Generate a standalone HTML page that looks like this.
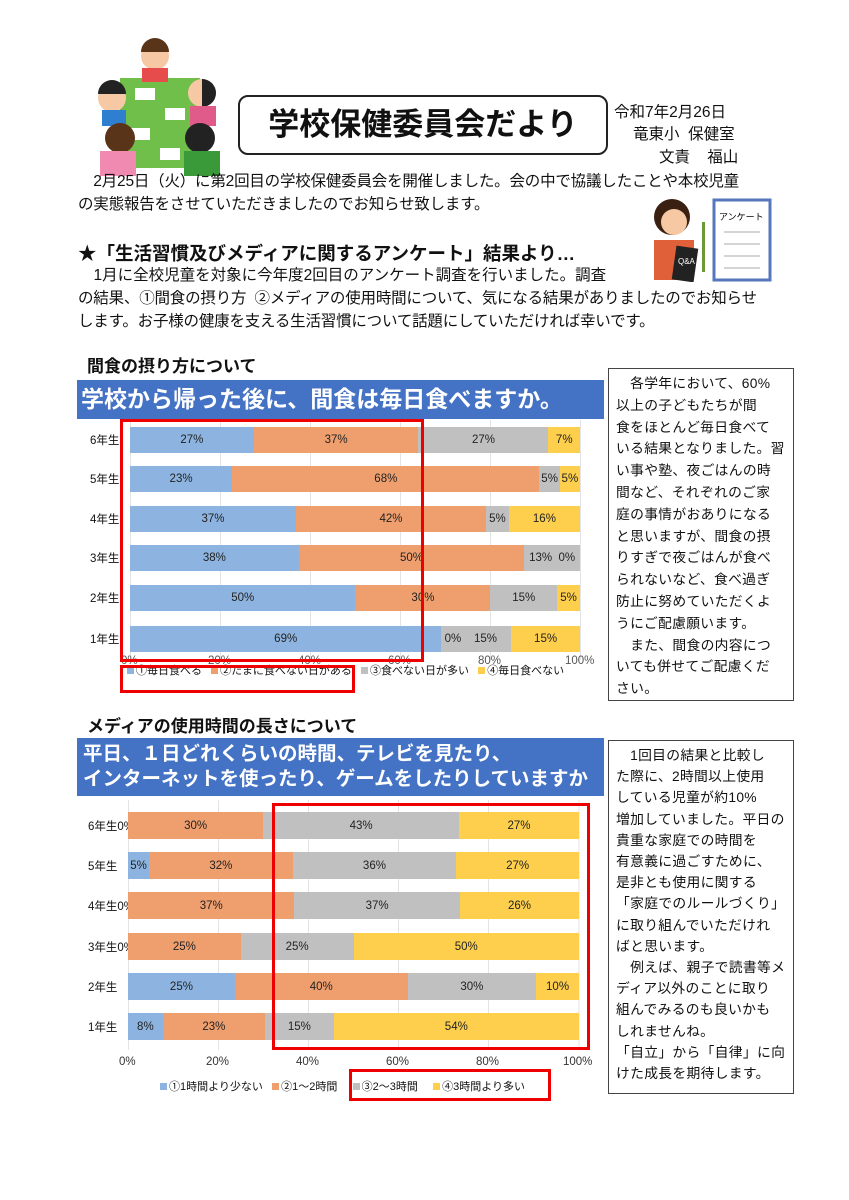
<!DOCTYPE html>
<html><head><meta charset="utf-8">
<style>
body{margin:0;width:849px;height:1200px;background:#fff;position:relative;overflow:hidden;font-family:"Liberation Sans","Noto Sans CJK JP",sans-serif;color:#111}
.a{position:absolute;white-space:nowrap}
.t{font-size:15.5px;line-height:1}
.bar{position:absolute;display:flex;height:26px}
.bar div{height:100%;display:flex;align-items:center;justify-content:center;font-size:11.5px;color:#222;overflow:visible;white-space:nowrap}
.b{background:#8db4e0}.o{background:#ef9f6e}.g{background:#c0c0c0}.y{background:#fdcf4c}
.lab{position:absolute;font-size:11.5px}
.side{position:absolute;border:1px solid #444;font-size:13.8px;line-height:21.8px;padding:4px 0 0 7px;box-sizing:border-box;letter-spacing:.3px;white-space:nowrap;overflow:hidden}
.red{position:absolute;border:3px solid #e00;box-sizing:border-box}
.banner{position:absolute;background:#4472c4;color:#fff;font-weight:bold}
.sq{display:inline-block;width:7px;height:7px;margin-right:2px}
</style></head><body>

<svg class="a" style="left:90px;top:38px" width="140" height="140" viewBox="0 0 140 140">
<rect x="30" y="40" width="80" height="90" fill="#6fbf4a"/>
<rect x="45" y="50" width="20" height="12" fill="#fff"/><rect x="75" y="70" width="20" height="12" fill="#fff"/><rect x="40" y="90" width="20" height="12" fill="#fff"/><rect x="70" y="110" width="20" height="12" fill="#fff"/>
<circle cx="65" cy="18" r="14" fill="#f6c9a4"/><path d="M51 14a14 14 0 0 1 28 0z" fill="#5a3418"/><rect x="52" y="30" width="26" height="14" fill="#e74c4c"/>
<circle cx="22" cy="60" r="14" fill="#f6c9a4"/><path d="M8 56a14 14 0 0 1 28 0z" fill="#222"/><rect x="12" y="72" width="24" height="16" fill="#2f7fd0"/>
<circle cx="112" cy="55" r="14" fill="#f6c9a4"/><path d="M112 41a14 14 0 0 1 0 28z" fill="#222"/><rect x="100" y="68" width="26" height="20" fill="#e05a8a"/>
<circle cx="30" cy="100" r="15" fill="#5a3418"/><rect x="10" y="113" width="36" height="25" fill="#f08ab0"/>
<circle cx="110" cy="100" r="15" fill="#222"/><rect x="94" y="113" width="36" height="25" fill="#3a9a3a"/>
</svg>

<div class="a" style="left:238px;top:95px;width:370px;height:60px;border:2px solid #222;border-radius:10px;box-sizing:border-box;font-size:31px;font-weight:bold;text-align:center;line-height:56px">学校保健委員会だより</div>
<div class="a t" style="left:614px;top:105px">令和7年2月26日</div>
<div class="a t" style="left:633px;top:127px">竜東小&nbsp; 保健室</div>
<div class="a t" style="left:659px;top:150px">文責&nbsp;&nbsp;&nbsp; 福山</div>

<div class="a t" style="left:78px;top:174px;letter-spacing:-.2px">　2月25日（火）に第2回目の学校保健委員会を開催しました。会の中で協議したことや本校児童</div>
<div class="a t" style="left:78px;top:197px;letter-spacing:-.2px">の実態報告をさせていただきましたのでお知らせ致します。</div>

<svg class="a" style="left:652px;top:192px" width="128" height="90" viewBox="0 0 128 90">
<circle cx="20" cy="25" r="18" fill="#3a2010"/><circle cx="22" cy="30" r="13" fill="#f6c9a4"/>
<rect x="2" y="48" width="40" height="40" fill="#e0603a"/>
<rect x="22" y="55" width="22" height="34" fill="#222" transform="rotate(8 33 72)"/><text x="26" y="72" font-size="8" fill="#fff" font-family="Liberation Sans">Q&amp;A</text>
<rect x="50" y="30" width="3" height="50" fill="#6a9a3a"/>
<rect x="62" y="8" width="56" height="80" fill="#fff" stroke="#5577bb" stroke-width="3"/>
<text x="67" y="28" font-size="9" font-family="Liberation Sans,Noto Sans CJK JP">アンケート</text>
<line x1="72" y1="40" x2="108" y2="40" stroke="#aaa"/><line x1="72" y1="52" x2="108" y2="52" stroke="#aaa"/><line x1="72" y1="64" x2="108" y2="64" stroke="#aaa"/><line x1="72" y1="76" x2="108" y2="76" stroke="#aaa"/>
</svg>

<div class="a" style="left:78px;top:240px;font-size:18.5px;font-weight:bold">★「生活習慣及びメディアに関するアンケート」結果より…</div>
<div class="a t" style="left:78px;top:268px">　1月に全校児童を対象に今年度2回目のアンケート調査を行いました。調査</div>
<div class="a t" style="left:78px;top:291px;letter-spacing:-.2px">の結果、①間食の摂り方&nbsp; ②メディアの使用時間について、気になる結果がありましたのでお知らせ</div>
<div class="a t" style="left:78px;top:314px;letter-spacing:-.2px">します。お子様の健康を支える生活習慣について話題にしていただければ幸いです。</div>

<div class="a" style="left:87px;top:352px;font-size:17px;font-weight:bold">間食の摂り方について</div>
<div class="banner" style="left:77px;top:380px;width:527px;height:39px;font-size:23px;line-height:39px;padding-left:4px;box-sizing:border-box;white-space:nowrap;overflow:hidden">学校から帰った後に、間食は毎日食べますか。</div>

<svg class="a" style="left:130px;top:420px" width="452" height="240"><g stroke="#e3e3e3"><line x1="0.5" y1="0" x2="0.5" y2="240"/><line x1="90.5" y1="0" x2="90.5" y2="240"/><line x1="180.5" y1="0" x2="180.5" y2="240"/><line x1="270.5" y1="0" x2="270.5" y2="240"/><line x1="360.5" y1="0" x2="360.5" y2="240"/><line x1="450.5" y1="0" x2="450.5" y2="240"/></g></svg>
<div class="lab" style="left:90px;top:432px">6年生</div>
<div class="lab" style="left:90px;top:471px">5年生</div>
<div class="lab" style="left:90px;top:511px">4年生</div>
<div class="lab" style="left:90px;top:550px">3年生</div>
<div class="lab" style="left:90px;top:590px">2年生</div>
<div class="lab" style="left:90px;top:631px">1年生</div>
<div class="bar" style="left:130px;top:427px;width:450px"><div class="b" style="width:27.5%">27%</div><div class="o" style="width:36.6%">37%</div><div class="g" style="width:28.9%">27%</div><div class="y" style="width:7%">7%</div></div>
<div class="bar" style="left:130px;top:466px;width:450px"><div class="b" style="width:22.7%">23%</div><div class="o" style="width:68.3%">68%</div><div class="g" style="width:4.5%">5%</div><div class="y" style="width:4.5%">5%</div></div>
<div class="bar" style="left:130px;top:506px;width:450px"><div class="b" style="width:36.9%">37%</div><div class="o" style="width:42.2%">42%</div><div class="g" style="width:5.1%">5%</div><div class="y" style="width:15.8%">16%</div></div>
<div class="bar" style="left:130px;top:545px;width:450px"><div class="b" style="width:37.5%">38%</div><div class="o" style="width:50.1%">50%</div><div class="g" style="width:12.4%">13%&nbsp; 0%</div></div>
<div class="bar" style="left:130px;top:585px;width:450px"><div class="b" style="width:50.1%">50%</div><div class="o" style="width:30%">30%</div><div class="g" style="width:14.8%">15%</div><div class="y" style="width:5.1%">5%</div></div>
<div class="bar" style="left:130px;top:626px;width:450px"><div class="b" style="width:69.2%">69%</div><div class="g" style="width:15.5%;justify-content:flex-start">&nbsp;0%&nbsp;&nbsp;&nbsp;&nbsp;15%</div><div class="y" style="width:15.3%">15%</div></div>
<div class="lab" style="left:121px;top:655px;color:#555">0%</div>
<div class="lab" style="left:208px;top:655px;color:#555">20%</div>
<div class="lab" style="left:298px;top:655px;color:#555">40%</div>
<div class="lab" style="left:388px;top:655px;color:#555">60%</div>
<div class="lab" style="left:478px;top:655px;color:#555">80%</div>
<div class="lab" style="left:565px;top:655px;color:#555">100%</div>
<div class="lab" style="left:127px;top:662px;font-size:11px"><span class="sq b"></span>①毎日食べる&nbsp;&nbsp;&nbsp;<span class="sq o"></span>②たまに食べない日がある&nbsp;&nbsp;&nbsp;<span class="sq g"></span>③食べない日が多い&nbsp;&nbsp;&nbsp;<span class="sq y"></span>④毎日食べない</div>
<div class="red" style="left:120px;top:419px;width:304px;height:243px"></div>
<div class="red" style="left:120px;top:665px;width:235px;height:28px"></div>

<div class="side" style="left:608px;top:368px;width:186px;height:333px">　各学年において、60%<br>以上の子どもたちが間<br>食をほとんど毎日食べて<br>いる結果となりました。習<br>い事や塾、夜ごはんの時<br>間など、それぞれのご家<br>庭の事情がおありになる<br>と思いますが、間食の摂<br>りすぎで夜ごはんが食べ<br>られないなど、食べ過ぎ<br>防止に努めていただくよ<br>うにご配慮願います。<br>　また、間食の内容につ<br>いても併せてご配慮くだ<br>さい。</div>

<div class="a" style="left:87px;top:712px;font-size:17px;font-weight:bold">メディアの使用時間の長さについて</div>
<div class="banner" style="left:77px;top:738px;width:527px;height:58px;font-size:19.5px;line-height:25px;padding:4px 0 0 6px;box-sizing:border-box;white-space:nowrap;overflow:hidden">平日、１日どれくらいの時間、テレビを見たり、<br>インターネットを使ったり、ゲームをしたりしていますか</div>

<svg class="a" style="left:128px;top:800px" width="454" height="250"><g stroke="#e3e3e3"><line x1="0.5" y1="0" x2="0.5" y2="250"/><line x1="90.5" y1="0" x2="90.5" y2="250"/><line x1="180.5" y1="0" x2="180.5" y2="250"/><line x1="270.5" y1="0" x2="270.5" y2="250"/><line x1="360.5" y1="0" x2="360.5" y2="250"/><line x1="451" y1="0" x2="451" y2="250"/></g></svg>
<div class="lab" style="left:88px;top:818px">6年生0%</div>
<div class="lab" style="left:88px;top:858px">5年生</div>
<div class="lab" style="left:88px;top:898px">4年生0%</div>
<div class="lab" style="left:88px;top:939px">3年生0%</div>
<div class="lab" style="left:88px;top:979px">2年生</div>
<div class="lab" style="left:88px;top:1019px">1年生</div>
<div class="bar" style="left:128px;top:812px;width:451px;height:27px"><div class="o" style="width:30%">30%</div><div class="g" style="width:43.4%">43%</div><div class="y" style="width:26.6%">27%</div></div>
<div class="bar" style="left:128px;top:852px;width:451px;height:27px"><div class="b" style="width:4.7%">5%</div><div class="o" style="width:31.8%">32%</div><div class="g" style="width:36.3%">36%</div><div class="y" style="width:27.2%">27%</div></div>
<div class="bar" style="left:128px;top:892px;width:451px;height:27px"><div class="o" style="width:36.9%">37%</div><div class="g" style="width:36.7%">37%</div><div class="y" style="width:26.4%">26%</div></div>
<div class="bar" style="left:128px;top:933px;width:451px;height:27px"><div class="o" style="width:25%">25%</div><div class="g" style="width:25%">25%</div><div class="y" style="width:50%">50%</div></div>
<div class="bar" style="left:128px;top:973px;width:451px;height:27px"><div class="b" style="width:23.7%">25%</div><div class="o" style="width:38.3%">40%</div><div class="g" style="width:28.5%">30%</div><div class="y" style="width:9.5%">10%</div></div>
<div class="bar" style="left:128px;top:1013px;width:451px;height:27px"><div class="b" style="width:7.7%">8%</div><div class="o" style="width:22.7%">23%</div><div class="g" style="width:15.2%">15%</div><div class="y" style="width:54.4%">54%</div></div>
<div class="lab" style="left:119px;top:1056px;color:#333">0%</div>
<div class="lab" style="left:206px;top:1056px;color:#333">20%</div>
<div class="lab" style="left:296px;top:1056px;color:#333">40%</div>
<div class="lab" style="left:386px;top:1056px;color:#333">60%</div>
<div class="lab" style="left:476px;top:1056px;color:#333">80%</div>
<div class="lab" style="left:563px;top:1056px;color:#333">100%</div>
<div class="lab" style="left:160px;top:1078px;font-size:11px"><span class="sq b"></span>①1時間より少ない&nbsp;&nbsp;&nbsp;<span class="sq o"></span>②1～2時間&nbsp;&nbsp;&nbsp;&nbsp;&nbsp;<span class="sq g"></span>③2～3時間&nbsp;&nbsp;&nbsp;&nbsp;&nbsp;<span class="sq y"></span>④3時間より多い</div>
<div class="red" style="left:272px;top:803px;width:318px;height:247px"></div>
<div class="red" style="left:349px;top:1069px;width:202px;height:32px"></div>

<div class="side" style="left:608px;top:740px;width:186px;height:354px;line-height:21.2px">　1回目の結果と比較し<br>た際に、2時間以上使用<br>している児童が約10%<br>増加していました。平日の<br>貴重な家庭での時間を<br>有意義に過ごすために、<br>是非とも使用に関する<br>「家庭でのルールづくり」<br>に取り組んでいただけれ<br>ばと思います。<br>　例えば、親子で読書等メ<br>ディア以外のことに取り<br>組んでみるのも良いかも<br>しれませんね。<br>「自立」から「自律」に向<br>けた成長を期待します。</div>
</body></html>
